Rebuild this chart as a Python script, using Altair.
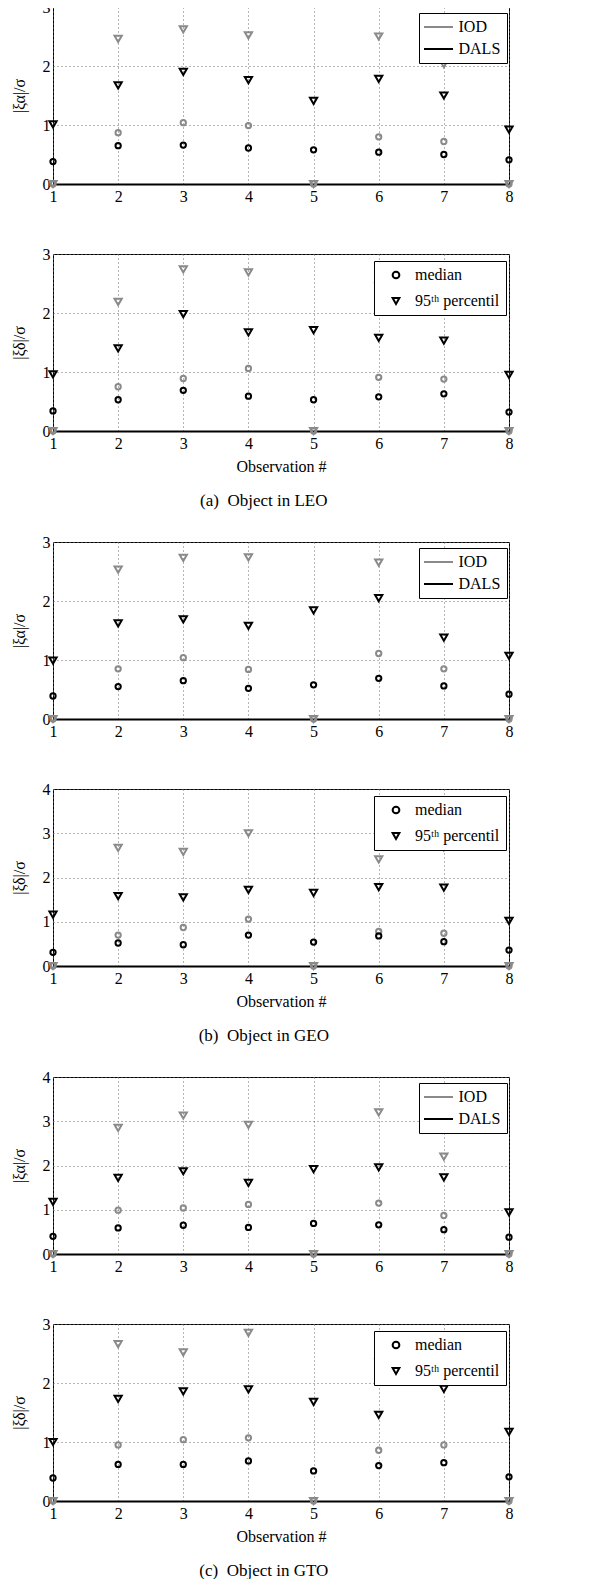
import altair as alt
import pandas as pd

FONT = "Liberation Serif"
GRAY = "#8a8a8a"

obs = [1, 2, 3, 4, 5, 6, 7, 8]
methods = ["IOD", "DALS"]
stats = ["median", "95ᵗʰ percentil"]
marker_keys = ["o", "v"]

# (a) LEO, alpha
leo_a_iod_median = [0, 0.87, 1.04, 0.99, 0, 0.80, 0.72, 0]
leo_a_iod_p95 = [0, 2.46, 2.62, 2.52, 0, 2.50, 2.03, 0]
leo_a_dals_median = [0.38, 0.65, 0.66, 0.61, 0.58, 0.54, 0.50, 0.41]
leo_a_dals_p95 = [1.01, 1.67, 1.90, 1.76, 1.41, 1.78, 1.50, 0.92]
# (a) LEO, delta
leo_d_iod_median = [0, 0.75, 0.89, 1.06, 0, 0.91, 0.88, 0]
leo_d_iod_p95 = [0, 2.19, 2.74, 2.69, 0, 2.45, 2.35, 0]
leo_d_dals_median = [0.34, 0.53, 0.69, 0.59, 0.53, 0.58, 0.63, 0.32]
leo_d_dals_p95 = [0.96, 1.40, 1.98, 1.67, 1.71, 1.58, 1.53, 0.95]
# (b) GEO, alpha
geo_a_iod_median = [0, 0.85, 1.04, 0.84, 0, 1.11, 0.85, 0]
geo_a_iod_p95 = [0, 2.53, 2.73, 2.74, 0, 2.65, 2.50, 0]
geo_a_dals_median = [0.39, 0.55, 0.65, 0.52, 0.58, 0.69, 0.56, 0.42]
geo_a_dals_p95 = [0.99, 1.62, 1.69, 1.58, 1.84, 2.05, 1.38, 1.07]
# (b) GEO, delta
geo_d_iod_median = [0, 0.70, 0.87, 1.06, 0, 0.78, 0.74, 0]
geo_d_iod_p95 = [0, 2.67, 2.58, 3.00, 0, 2.41, 2.68, 0]
geo_d_dals_median = [0.31, 0.52, 0.48, 0.70, 0.54, 0.68, 0.55, 0.36]
geo_d_dals_p95 = [1.16, 1.58, 1.55, 1.72, 1.65, 1.78, 1.77, 1.02]
# (c) GTO, alpha
gto_a_iod_median = [0, 0.99, 1.04, 1.12, 0, 1.15, 0.87, 0]
gto_a_iod_p95 = [0, 2.85, 3.13, 2.92, 0, 3.20, 2.20, 0]
gto_a_dals_median = [0.40, 0.59, 0.65, 0.60, 0.69, 0.66, 0.55, 0.38]
gto_a_dals_p95 = [1.18, 1.72, 1.87, 1.61, 1.92, 1.96, 1.73, 0.94]
# (c) GTO, delta
gto_d_iod_median = [0, 0.95, 1.04, 1.07, 0, 0.86, 0.95, 0]
gto_d_iod_p95 = [0, 2.66, 2.52, 2.85, 0, 2.35, 2.45, 0]
gto_d_dals_median = [0.39, 0.62, 0.62, 0.68, 0.51, 0.60, 0.65, 0.41]
gto_d_dals_p95 = [1.00, 1.73, 1.86, 1.89, 1.68, 1.46, 1.90, 1.17]

captions = ["(a)\u2002Object in LEO", "(b)\u2002Object in GEO", "(c)\u2002Object in GTO"]
ytitle_alpha = "|ξα|/σ"
ytitle_delta = "|ξδ|/σ"
xtitle = "Observation #"


def frame(iod_med, iod_p95, dals_med, dals_p95):
    rows = []
    for method, med, p95 in (("IOD", iod_med, iod_p95), ("DALS", dals_med, dals_p95)):
        for s, mk, vals in ((stats[0], marker_keys[0], med), (stats[1], marker_keys[1], p95)):
            for o, v in zip(obs, vals):
                rows.append({"obs": o, "value": v, "method": method, "stat": s, "marker": mk})
    return pd.DataFrame(rows)


def panel(df, ymax, ytitle, legend_kind, with_xtitle):
    if legend_kind == "method":
        color_leg = alt.Legend(
            title=None, orient="none", legendX=366, legendY=6, fillColor="white",
            strokeColor="black", padding=6, rowPadding=6,
            symbolType="M-2.9,0H2.9", symbolSize=100, symbolStrokeWidth=2,
            symbolOffset=5.5, labelOffset=12, labelFont=FONT, labelFontSize=16,
            labelColor="black", zindex=1,
        )
        color_enc = alt.Color("method:N", scale=alt.Scale(domain=methods, range=[GRAY, "black"]), legend=color_leg)
        shape_enc = alt.Shape("stat:N", scale=alt.Scale(domain=stats, range=["circle", "triangle-down"]), legend=None)
    else:
        shape_leg = alt.Legend(
            title=None, orient="none", legendX=321, legendY=7, fillColor="white",
            strokeColor="black", padding=6, rowPadding=10,
            symbolSize=45, symbolStrokeWidth=2, symbolStrokeColor="black",
            symbolOffset=8, labelOffset=11, labelFont=FONT, labelFontSize=16,
            labelColor="black", zindex=1,
        )
        color_enc = alt.Color("method:N", scale=alt.Scale(domain=methods, range=[GRAY, "black"]), legend=None)
        shape_enc = alt.Shape("stat:N", scale=alt.Scale(domain=stats, range=["circle", "triangle-down"]), legend=shape_leg)

    x_axis_kwargs = dict(
        values=obs, format="d", labelFlush=False, labelOverlap=False, labelPadding=4,
        domain=True, domainColor="black", domainWidth=2, grid=True, titlePadding=7,
    )
    if with_xtitle:
        x_axis = alt.Axis(title=xtitle, **x_axis_kwargs)
    else:
        x_axis = alt.Axis(title=None, **x_axis_kwargs)

    return alt.Chart(df).mark_point(filled=False, strokeWidth=2, opacity=1, color="black").encode(
        x=alt.X("obs:Q", scale=alt.Scale(domain=[1, 8], nice=False, zero=False), axis=x_axis),
        y=alt.Y("value:Q", scale=alt.Scale(domain=[0, ymax], nice=False),
                axis=alt.Axis(values=list(range(ymax + 1)), format="d", title=ytitle,
                              labelPadding=3, titlePadding=15, grid=True, labelOverlap=False)),
        color=color_enc,
        shape=shape_enc,
        size=alt.Size("marker:N", scale=alt.Scale(domain=marker_keys, range=[28, 52]), legend=None),
    ).properties(width=456, height=177)


def group(top, bottom, caption):
    return alt.vconcat(top, bottom, spacing=40).resolve_scale(
        color="independent", shape="independent", size="independent"
    ).resolve_legend(color="independent", shape="independent", size="independent").properties(
        title=alt.TitleParams(text=caption, orient="bottom", font=FONT, fontSize=17,
                              fontWeight="normal", color="black", offset=18, anchor="middle")
    )


g1 = group(
    panel(frame(leo_a_iod_median, leo_a_iod_p95, leo_a_dals_median, leo_a_dals_p95), 3, ytitle_alpha, "method", False),
    panel(frame(leo_d_iod_median, leo_d_iod_p95, leo_d_dals_median, leo_d_dals_p95), 3, ytitle_delta, "stat", True),
    captions[0],
)
g2 = group(
    panel(frame(geo_a_iod_median, geo_a_iod_p95, geo_a_dals_median, geo_a_dals_p95), 3, ytitle_alpha, "method", False),
    panel(frame(geo_d_iod_median, geo_d_iod_p95, geo_d_dals_median, geo_d_dals_p95), 4, ytitle_delta, "stat", True),
    captions[1],
)
g3 = group(
    panel(frame(gto_a_iod_median, gto_a_iod_p95, gto_a_dals_median, gto_a_dals_p95), 4, ytitle_alpha, "method", False),
    panel(frame(gto_d_iod_median, gto_d_iod_p95, gto_d_dals_median, gto_d_dals_p95), 3, ytitle_delta, "stat", True),
    captions[2],
)

chart = alt.vconcat(g1, g2, g3, spacing=24).resolve_scale(
    color="independent", shape="independent", size="independent"
).resolve_legend(color="independent", shape="independent", size="independent").properties(
    padding={"left": 2, "top": -10, "right": 2, "bottom": 0}
).configure_view(
    stroke="black", strokeWidth=1
).configure_axis(
    labelFont=FONT, labelFontSize=16, labelColor="black",
    titleFont=FONT, titleFontSize=16, titleFontWeight="normal", titleColor="black",
    gridColor="#6a6a6a", gridDash=[1, 3], gridWidth=1, gridOpacity=1,
    ticks=False, domain=False,
).configure_axisX(
    domain=True,
)

chart.save("out.html", embed_options={"renderer": "svg", "actions": False})
